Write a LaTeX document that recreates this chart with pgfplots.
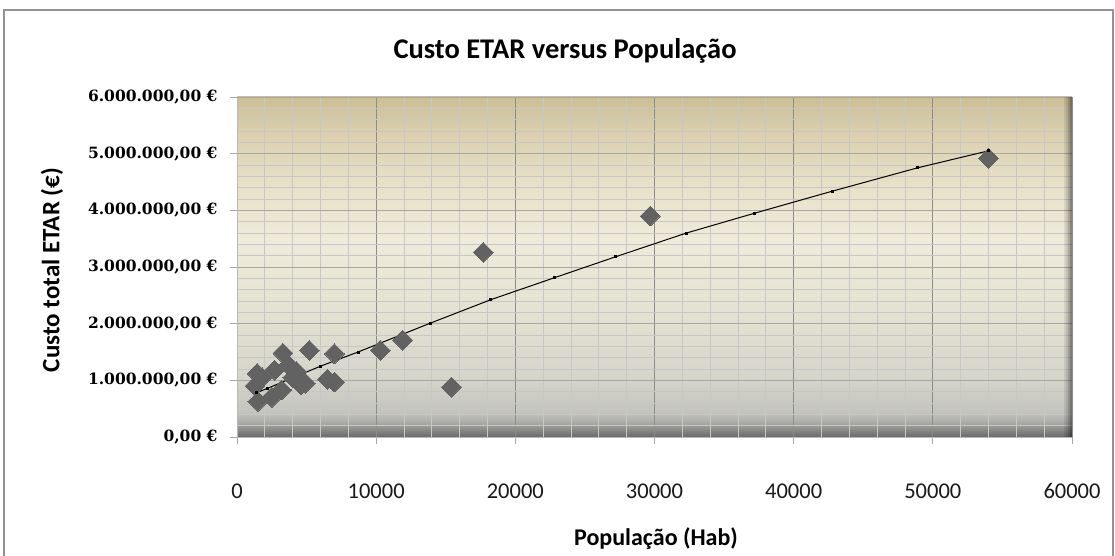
\documentclass[border=0pt]{standalone}
\usepackage{pgfplots}
\pgfplotsset{compat=1.18}
\usepackage{fontspec}
\setmainfont{Carlito}
\newfontfamily\serifb{DejaVu Serif}
\definecolor{ptgray}{HTML}{626262}
\definecolor{bgA}{HTML}{6A6A6A}
\definecolor{bgB}{HTML}{868684}
\definecolor{bgC}{HTML}{ADADA9}
\definecolor{bgD}{HTML}{C4C4BE}
\definecolor{bgE}{HTML}{D5D4CA}
\definecolor{bgF}{HTML}{E2E0D0}
\definecolor{bgG}{HTML}{EEEBDA}
\definecolor{bgH}{HTML}{E7E0C6}
\definecolor{bgI}{HTML}{DACFAD}
\definecolor{bgJ}{HTML}{CCBE96}
\pgfdeclareverticalshading{plotbg}{100bp}{color(0bp)=(bgA); color(25bp)=(bgA); color(26bp)=(bgB); color(27.25bp)=(bgC); color(28.75bp)=(bgD); color(33.5bp)=(bgE); color(41.75bp)=(bgF); color(54bp)=(bgG); color(62.75bp)=(bgH); color(70bp)=(bgI); color(75bp)=(bgJ); color(100bp)=(bgJ)}
\begin{document}
\begin{tikzpicture}[x=1pt,y=1pt]
\useasboundingbox (0,0) rectangle (1115,555);
\fill[white] (0,0) rectangle (1115,555);
\draw[gray!85, line width=1.5pt] (4,-5) -- (4,545) -- (1113,545) -- (1113,-5);
\begin{axis}[
  at={(237pt,118pt)}, anchor=origin,
  scale only axis, width=835pt, height=340pt,
  xmin=0, xmax=60000, ymin=0, ymax=6000000,
  axis x line*=bottom, axis y line*=left,
  axis line style={gray!55, line width=0.8pt},
  axis background/.style={shading=plotbg},
  xtick={0,10000,20000,30000,40000,50000,60000},
  xticklabels={0,10000,20000,30000,40000,50000,60000},
  ytick={0,1000000,2000000,3000000,4000000,5000000,6000000},
  yticklabels={{0,00 €},{1.000.000,00 €},{2.000.000,00 €},{3.000.000,00 €},{4.000.000,00 €},{5.000.000,00 €},{6.000.000,00 €}},
  scaled ticks=false,
  minor x tick num=4, minor y tick num=4,
  grid=both,
  major x grid style={draw=black!45, line width=0.8pt},
  minor x grid style={draw=black!22, line width=0.8pt},
  major y grid style={draw=black!35, line width=0.8pt},
  minor y grid style={draw=black!22, line width=0.8pt},
  tick align=outside, major tick length=7pt, minor tick length=0pt,
  tick style={gray!70, line width=0.8pt},
  yticklabel style={font=\serifb\bfseries\fontsize{15.5}{17}\selectfont, text=black, xshift=-9pt},
  xticklabel style={font=\fontsize{22.5}{24}\selectfont, text=black!90, yshift=-36pt},
  clip=false,
]
\addplot[ptgray, only marks, mark=square*, mark size=7pt, mark options={rotate=45, fill=ptgray, draw=ptgray, line width=0pt}] coordinates {
(1300,900000) (1450,1120000) (1500,630000) (1800,1050000) (2500,700000)
(2700,1180000) (3200,830000) (3300,1480000) (3700,1270000) (4000,1050000)
(4300,1150000) (4600,920000) (4900,950000) (5200,1530000) (6500,1020000)
(7000,970000) (7000,1470000) (10300,1530000) (11900,1710000) (15400,880000)
(17700,3260000) (29700,3900000) (54000,4920000)
};
\addplot[black, line width=1pt, mark=square*, mark size=1pt] coordinates {
(1400,780000) (2200,860000) (6000,1250000) (8700,1500000) (13900,2010000)
(18200,2420000) (22800,2810000) (27200,3180000) (32300,3600000) (37200,3950000)
(42800,4340000) (48900,4750000) (54000,5050000)
};
\end{axis}
\foreach \o/\w in {0.08/1064,0.16/1066,0.28/1068,0.42/1070} {
  \fill[black, opacity=\o] (\w,118) rectangle (\w+2,458);
}
\node[font=\bfseries\fontsize{28.5}{32}\selectfont] at (565,504) {Custo ETAR versus População};
\node[rotate=90, font=\bfseries\fontsize{25}{28}\selectfont] at (52,285) {Custo total ETAR (€)};
\node[font=\bfseries\fontsize{24}{28}\selectfont] at (656,16) {População (Hab)};
\end{tikzpicture}
\end{document}
